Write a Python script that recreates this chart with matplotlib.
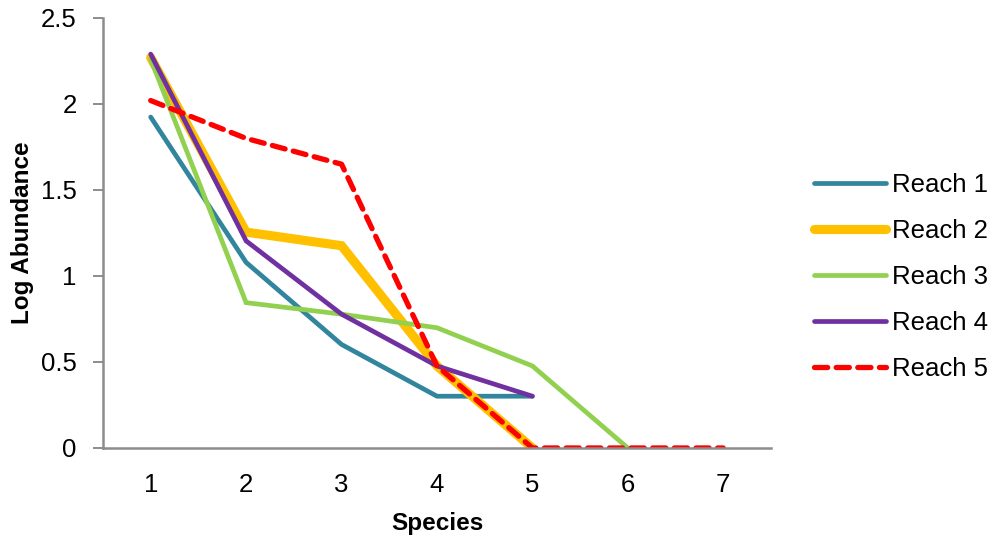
import numpy as np
import matplotlib.pyplot as plt

plt.rcParams['font.family'] = ['Liberation Sans', 'DejaVu Sans']

species = [1, 2, 3, 4, 5, 6, 7]

reach1 = [1.924, 1.079, 0.602, 0.301, 0.301]
reach2 = [2.270, 1.255, 1.176, 0.477, 0.0]
reach3 = [2.260, 0.845, 0.778, 0.699, 0.477, 0.0]
reach4 = [2.290, 1.204, 0.778, 0.477, 0.301]
reach5 = [2.020, 1.800, 1.650, 0.477, 0.0, 0.0, 0.0]

series = [
    ('Reach 1', reach1, '#31859C', 3.4, '-'),
    ('Reach 2', reach2, '#FFC000', 6.6, '-'),
    ('Reach 3', reach3, '#92D050', 3.4, '-'),
    ('Reach 4', reach4, '#7030A0', 3.4, '-'),
    ('Reach 5', reach5, '#FF0000', 3.8, (0, (2.5, 1.6))),
]

fig = plt.figure(figsize=(9.94, 5.4), dpi=100)
ax = fig.add_axes([0.1036, 0.1704, 0.672, 0.7963])

for label, vals, color, lw, ls in series:
    ax.plot(species[:len(vals)], vals, color=color, lw=lw, ls=ls,
            label=label, solid_capstyle='round', dash_capstyle='round',
            solid_joinstyle='miter')

ax.set_xlim(0.5, 7.5)
ax.set_ylim(0, 2.5)
ax.set_xticks(species)
ax.set_yticks(np.arange(0, 2.51, 0.5))
ax.set_yticklabels(['0', '0.5', '1', '1.5', '2', '2.5'])
ax.tick_params(axis='x', length=0, pad=18, labelsize=18.5)
ax.tick_params(axis='y', length=7, width=1.4, color='#8c8c8c', pad=12, labelsize=18.5)

for side in ['top', 'right']:
    ax.spines[side].set_visible(False)
for side in ['left', 'bottom']:
    ax.spines[side].set_color('#8c8c8c')
    ax.spines[side].set_linewidth(1.8)

ax.set_xlabel('Species', fontsize=17.5, fontweight='bold', labelpad=11)
ax.set_ylabel('Log Abundance', fontsize=17.5, fontweight='bold', labelpad=5)

ax.legend(loc='center left', bbox_to_anchor=(1.03, 0.398), frameon=False,
          fontsize=18.5, handlelength=2.8, handletextpad=0.25, labelspacing=0.85)

fig.savefig('out.png', dpi=100)
